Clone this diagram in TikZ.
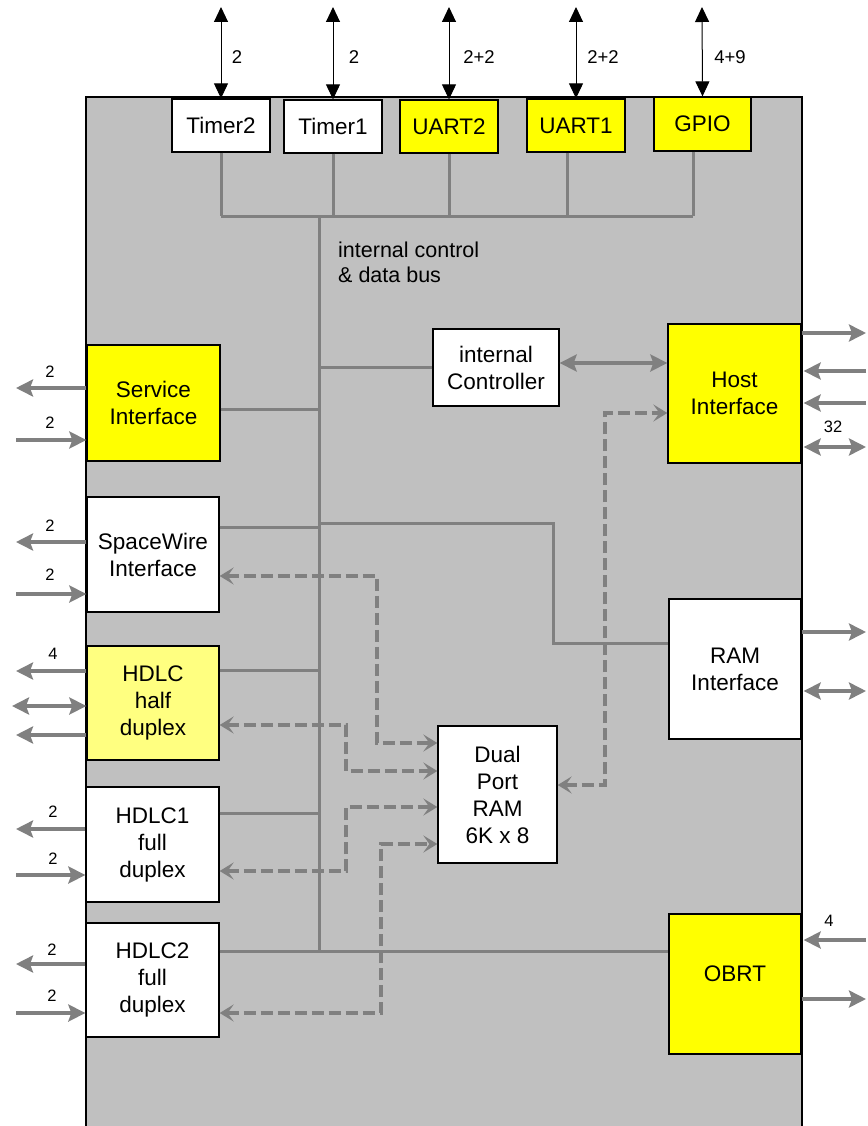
\documentclass[tikz,border=0pt]{standalone}
\usepackage{fontspec}
\setmainfont{Liberation Sans}
\usetikzlibrary{arrows.meta,calc}
\definecolor{chipgray}{HTML}{C0C0C0}
\definecolor{linegray}{HTML}{808080}
\definecolor{yel}{HTML}{FFFF00}
\definecolor{lyel}{HTML}{FFFF80}
\begin{document}
\begin{tikzpicture}[x=1pt,y=-1pt,
  box/.style={draw=black, line width=1.3pt, align=center, inner sep=0pt, font=\fontsize{22.5}{27}\selectfont},
  wbox/.style={box, fill=white},
  ybox/.style={box, fill=yel},
  lbox/.style={box, fill=lyel},
  bus/.style={draw=linegray, line width=3pt},
  dsh/.style={draw=linegray, line width=3.6pt, dash pattern=on 12pt off 5pt,
    {Stealth[length=14pt,width=17pt,inset=6pt]}-{Stealth[length=14pt,width=17pt,inset=6pt]}},
  garrow/.style={draw=linegray, line width=3.6pt},
  gout/.style={garrow, -{Stealth[length=17pt,width=17pt,inset=3pt]}},
  gbi/.style={garrow, {Stealth[length=17pt,width=17pt,inset=3pt]}-{Stealth[length=17pt,width=17pt,inset=3pt]}},
  toparrow/.style={draw=black, line width=1pt, {Triangle[length=15pt,width=14pt]}-{Triangle[length=15pt,width=14pt]}},
  num/.style={font=\fontsize{16.5}{18}\selectfont, inner sep=0pt},
  tnum/.style={font=\fontsize{18.5}{20}\selectfont, inner sep=0pt}
]
\useasboundingbox (0,0) rectangle (867,1126);
\fill[white] (0,0) rectangle (867,1126);
% chip
\draw[fill=chipgray, line width=2.5pt] (86,97) rectangle (802,1145);

% top boxes
\node[wbox, minimum width=98pt, minimum height=53pt] (timer2) at (221,125.5) {Timer2};
\node[wbox, minimum width=98pt, minimum height=53pt] (timer1) at (333,126.5) {Timer1};
\node[ybox, minimum width=98pt, minimum height=53pt] (uart2) at (449,126.5) {UART2};
\node[ybox, minimum width=98pt, minimum height=53pt] (uart1) at (576,125.5) {UART1};
\node[ybox, minimum width=97pt, minimum height=54pt] (gpio) at (702.5,124) {GPIO};

% other boxes
\node[ybox, minimum width=133pt, minimum height=116pt] (service) at (153.5,403) {Service\\Interface};
\node[wbox, minimum width=132pt, minimum height=115pt] (spacewire) at (153,554.5) {SpaceWire\\Interface};
\node[lbox, minimum width=132pt, minimum height=114pt] (hdlch) at (153,703) {HDLC\\half\\duplex};
\node[wbox, minimum width=133pt, minimum height=115pt] (hdlc1) at (152.5,844.5) {HDLC1\\full\\duplex};
\node[wbox, minimum width=133pt, minimum height=114pt] (hdlc2) at (152.5,980) {HDLC2\\full\\duplex};
\node[wbox, minimum width=126pt, minimum height=77pt] (ctrl) at (496,367.5) {internal\\Controller};
\node[ybox, minimum width=133pt, minimum height=139pt] (host) at (734.5,393.5) {Host\\Interface};
\node[wbox, minimum width=132pt, minimum height=140pt] (ramif) at (735,669) {RAM\\Interface};
\node[wbox, minimum width=119pt, minimum height=137pt] (dpram) at (497.5,794.5) {Dual\\Port\\RAM\\6K x 8};
\node[ybox, minimum width=132pt, minimum height=140pt] (obrt) at (735,984) {\raisebox{20pt}{OBRT}};

% bus label
\node[anchor=west, align=left, inner sep=0pt, font=\fontsize{21.5}{25}\selectfont] (buslbl) at (338,262.5) {internal control\\\& data bus};

% internal bus
\coordinate (bt) at (319,216);
\coordinate (bb) at (319,952);
\coordinate (tl) at (221,216);
\coordinate (tr) at (693,216);
\draw[bus] (bt) -- (bb);
\draw[bus] (tl) -- (tr);
\draw[bus] (timer2.south) -- (timer2.south |- bt);
\draw[bus] (timer1.south) -- (timer1.south |- bt);
\draw[bus] (uart2.south) -- (uart2.south |- bt);
\coordinate (xu1) at (567,0);
\coordinate (xg) at (693,0);
\draw[bus] (xu1 |- uart1.south) -- (xu1 |- bt);
\draw[bus] (xg |- gpio.south) -- (xg |- bt);

\coordinate (ys) at (0,409);
\draw[bus] (ys -| service.east) -- (ys -| bt);
\draw[bus] (ctrl.west) -- (ctrl.west -| bt);
\coordinate (yw) at (0,527);
\draw[bus] (yw -| spacewire.east) -- (yw -| bt);
\coordinate (yr1) at (0,523);
\coordinate (yr2) at (0,643);
\coordinate (xr) at (553,0);
\draw[bus] (yr1 -| bt) -- (yr1 -| xr) -- (yr2 -| xr) -- (yr2 -| ramif.west);
\coordinate (yh) at (0,670);
\draw[bus] (yh -| hdlch.east) -- (yh -| bt);
\coordinate (y1) at (0,813);
\draw[bus] (y1 -| hdlc1.east) -- (y1 -| bt);
\coordinate (yo) at (0,951);
\draw[bus] (yo -| hdlc2.east) -- (yo -| obrt.west);

% controller <-> host
\coordinate (yc) at (0,363);
\draw[gbi] (yc -| ctrl.east) -- (yc -| host.west);

% dashed DMA paths
\coordinate (d1a) at (377,576); \coordinate (d1b) at (377,743);
\draw[dsh] (d1a -| spacewire.east) -- (d1a) -- (d1b) -- (d1b -| dpram.west);
\coordinate (d2a) at (346,725); \coordinate (d2b) at (346,771);
\draw[dsh] (d2a -| hdlch.east) -- (d2a) -- (d2b) -- (d2b -| dpram.west);
\coordinate (d3a) at (346,871); \coordinate (d3b) at (346,807);
\draw[dsh] (d3a -| hdlc1.east) -- (d3a) -- (d3b) -- (d3b -| dpram.west);
\coordinate (d4a) at (381,1013); \coordinate (d4b) at (381,844);
\draw[dsh] (d4a -| hdlc2.east) -- (d4a) -- (d4b) -- (d4b -| dpram.west);
\coordinate (d5a) at (605,785); \coordinate (d5b) at (605,413);
\draw[dsh] (d5a -| dpram.east) -- (d5a) -- (d5b) -- (d5b -| host.west);

% top pins
\coordinate (t1) at (221,7);
\coordinate (t2) at (333,7);
\coordinate (t3) at (449,7);
\coordinate (t4) at (576,7);
\coordinate (t5) at (702,7);
\draw[toparrow] (t1) -- (timer2.north);
\draw[toparrow] (t2) -- (timer1.north);
\draw[toparrow] (t3) -- (uart2.north);
\draw[toparrow] (t4) -- (uart1.north);
\draw[toparrow] (t5) -- (gpio.north);
\node[tnum] (n1) at (237,57) {2};
\node[tnum] (n2) at (354,57) {2};
\node[tnum] (n3) at (479,57) {2+2};
\node[tnum] (n4) at (603,57) {2+2};
\node[tnum] (n5) at (730,57) {4+9};

% left pins
\coordinate (sa) at (16,388); \coordinate (sb) at (16,440);
\draw[gout] (sa -| service.west) -- (sa);
\draw[gout] (sb) -- (sb -| service.west);
\node[num] (ls1) at (50,372) {2};
\node[num] (ls2) at (50,423) {2};
\coordinate (wa) at (16,542); \coordinate (wb) at (16,594);
\draw[gout] (wa -| spacewire.west) -- (wa);
\draw[gout] (wb) -- (wb -| spacewire.west);
\node[num] (lw1) at (50,526) {2};
\node[num] (lw2) at (50,575) {2};
\coordinate (ha) at (16,671); \coordinate (hb) at (12,706); \coordinate (hc) at (16,735);
\draw[gout] (ha -| hdlch.west) -- (ha);
\draw[gbi] (hb) -- (hb -| hdlch.west);
\draw[gout] (hc -| hdlch.west) -- (hc);
\node[num] (lh1) at (53,654) {4};
\coordinate (ia) at (16,829); \coordinate (ib) at (16,875);
\draw[gout] (ia -| hdlc1.west) -- (ia);
\draw[gout] (ib) -- (ib -| hdlc1.west);
\node[num] (li1) at (53,812) {2};
\node[num] (li2) at (53,859) {2};
\coordinate (ja) at (16,964); \coordinate (jb) at (16,1013);
\draw[gout] (ja -| hdlc2.west) -- (ja);
\draw[gout] (jb) -- (jb -| hdlc2.west);
\node[num] (lj1) at (52,950) {2};
\node[num] (lj2) at (52,996) {2};

% right pins
\coordinate (ra) at (866,333); \coordinate (rb) at (866,371);
\coordinate (rc) at (866,403); \coordinate (rd) at (866,447);
\draw[gout] (ra -| host.east) -- (ra);
\draw[gout, shorten >=2pt] (rb) -- (rb -| host.east);
\draw[gout, shorten >=2pt] (rc) -- (rc -| host.east);
\draw[gbi, shorten <=2pt] (rd -| host.east) -- (rd);
\node[num] (lr1) at (833,427) {32};
\coordinate (re) at (866,632); \coordinate (rf) at (866,691);
\draw[gout] (re -| ramif.east) -- (re);
\draw[gbi, shorten <=2pt] (rf -| ramif.east) -- (rf);
\coordinate (rg) at (866,940); \coordinate (rh) at (866,999);
\draw[gout, shorten >=2pt] (rg) -- (rg -| obrt.east);
\draw[gout] (rh -| obrt.east) -- (rh);
\node[num] (lr2) at (829,921) {4};
\end{tikzpicture}
\end{document}
